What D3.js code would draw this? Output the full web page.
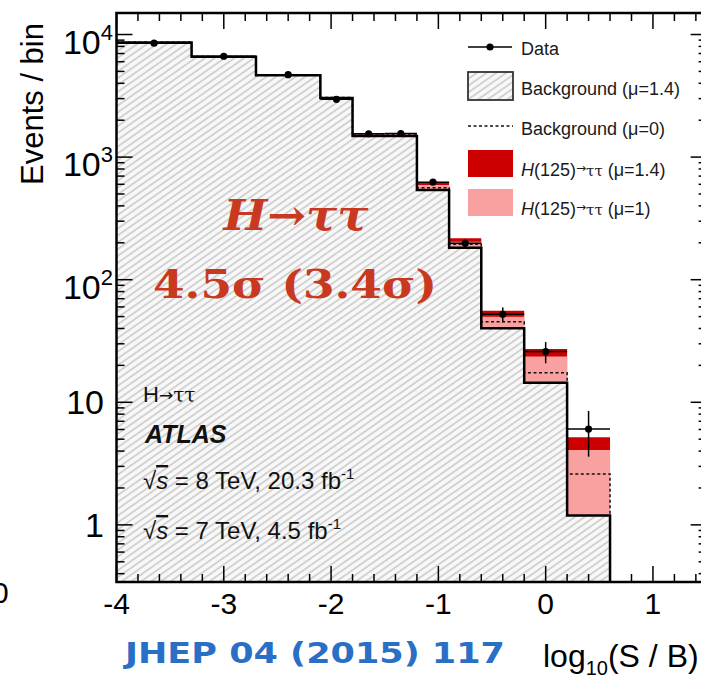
<!DOCTYPE html>
<html>
<head>
<meta charset="utf-8">
<script src="https://cdn.jsdelivr.net/npm/d3@7"></script>
<style>
  body { margin: 0; background: #fff; }
  svg { display: block; }
</style>
</head>
<body>
<div id="chart"></div>
<script>
// ---------------- data ----------------
const binEdges   = [-4, -3.3, -2.7, -2.1, -1.8, -1.5, -1.2, -0.9, -0.6, -0.2, 0.2, 0.6];
const dataCounts = [8500, 6650, 4700, 2960, 1550, 1555, 625, 198, 52.2, 25.9, 6.05];
const dataErrors = [92, 82, 69, 54, 39, 39, 25, 14, 7.2, 5.1, 2.45];
const bgMu14     = [8600, 6590, 4650, 3035, 1486, 1486, 539, 182, 40.1, 14.45, 1.19];
const bgMu0      = [8640, 6620, 4680, 3060, 1505, 1512, 562, 195, 45.4, 17.4, 2.6];
const higgsMu1   = [9, 11, 14, 20, 30, 60, 53, 22, 9.8, 9.2, 2.9];
const higgsMu14  = [13, 15, 20, 28, 42, 89, 84, 36, 15.7, 12.8, 4.0];

const xTicks = [-4, -3, -2, -1, 0, 1];
const yTicks = [1e4, 1e3, 1e2, 10, 1];
const yTickLabels = [["10", "4"], ["10", "3"], ["10", "2"], ["10", ""], ["1", ""]];

const legendItems = ["Data", "Background (μ=1.4)", "Background (μ=0)", "H(125)→ττ (μ=1.4)", "H(125)→ττ (μ=1)"];

// ---------------- svg ----------------
const width = 701, height = 678;
const pLeft = 116.5, pRight = 706.6, pTop = 13, pBottom = 582;
const red = "#cc0000", pink = "#f9a0a0";
const font = "'Liberation Sans', Arial, sans-serif";

const svg = d3.select("#chart").append("svg")
    .attr("width", width)
    .attr("height", height);

const defs = svg.append("defs");
const hatch = defs.append("pattern")
    .attr("id", "hatch")
    .attr("patternUnits", "userSpaceOnUse")
    .attr("width", 12).attr("height", 5.6)
    .attr("patternTransform", "rotate(-35)");
hatch.append("rect").attr("width", 12).attr("height", 5.6).attr("fill", "#f8f8f8");
hatch.append("line")
    .attr("x1", 0).attr("x2", 12).attr("y1", 2.8).attr("y2", 2.8)
    .attr("stroke", "#b0b0b0").attr("stroke-width", 1);

defs.append("clipPath").attr("id", "plotclip")
  .append("rect").attr("x", pLeft).attr("y", pTop)
  .attr("width", pRight - pLeft).attr("height", pBottom - pTop);

// ---------------- scales ----------------
const x = d3.scaleLinear().domain([-4, 1.5]).range([pLeft, pRight]);
const y = d3.scaleLog().domain([0.342, 14980]).range([pBottom, pTop]);

// helpers for step histograms
function bins(lo, hi) {
  const pts = binEdges.slice(0, -1).map((e, i) => ({x: e, lo: lo[i], hi: hi[i]}));
  const n = lo.length - 1;
  pts.push({x: binEdges[binEdges.length - 1], lo: lo[n], hi: hi[n]});
  return pts;
}
const area = d3.area()
    .curve(d3.curveStepAfter)
    .x(d => x(d.x))
    .y0(d => d.lo === null ? pBottom : y(d.lo))
    .y1(d => y(d.hi));
const stepLine = d3.line()
    .curve(d3.curveStepAfter)
    .x(d => x(d.x))
    .y(d => d.v === null ? pBottom : y(d.v));
function stepPts(vals) {
  const pts = binEdges.slice(0, -1).map((e, i) => ({x: e, v: vals[i]}));
  const last = binEdges[binEdges.length - 1];
  pts.push({x: last, v: vals[vals.length - 1]});
  pts.push({x: last, v: null});
  return pts;
}

const plot = svg.append("g").attr("clip-path", "url(#plotclip)");

// signal stacked on top of the background
const sig14Top = bgMu14.map((b, i) => b + higgsMu14[i]);
const sig1Top = bgMu14.map((b, i) => b + higgsMu1[i]);
plot.append("path").attr("fill", red).attr("d", area(bins(bgMu14, sig14Top)));
plot.append("path").attr("fill", pink).attr("d", area(bins(bgMu14, sig1Top)));

// hatched background
plot.append("path")
    .attr("fill", "url(#hatch)")
    .attr("d", area(bins(bgMu14.map(() => null), bgMu14)));

// background mu=0 dotted
plot.append("path")
    .attr("fill", "none").attr("stroke", "#111")
    .attr("stroke-width", 1.5).attr("stroke-dasharray", "3,2.5")
    .attr("d", stepLine(stepPts(bgMu0)));

// background outline
plot.append("path")
    .attr("fill", "none").attr("stroke", "#000")
    .attr("stroke-width", 2.5)
    .attr("d", stepLine(stepPts(bgMu14)));

// data points
const pts = dataCounts.map((v, i) => ({
  x0: binEdges[i], x1: binEdges[i + 1], xc: (binEdges[i] + binEdges[i + 1]) / 2,
  v: v, e: dataErrors[i]
}));
const dg = plot.append("g");
dg.selectAll(".herr").data(pts).join("line")
    .attr("x1", d => x(d.x0)).attr("x2", d => x(d.x1))
    .attr("y1", d => y(d.v)).attr("y2", d => y(d.v))
    .attr("stroke", "#000").attr("stroke-width", 1.5);
dg.selectAll(".verr").data(pts).join("line")
    .attr("x1", d => x(d.xc)).attr("x2", d => x(d.xc))
    .attr("y1", d => y(d.v - d.e)).attr("y2", d => y(d.v + d.e))
    .attr("stroke", "#000").attr("stroke-width", 1.5);
dg.selectAll("circle").data(pts).join("circle")
    .attr("cx", d => x(d.xc)).attr("cy", d => y(d.v)).attr("r", 3.6)
    .attr("fill", "#000");

// ---------------- frame and ticks ----------------
const frame = svg.append("g");
const xMinor = d3.range(-40, 16, 2).map(v => v / 10);
const yMinor = [];
[0.1, 1, 10, 100, 1000, 10000].forEach(dec => {
  for (let k = 2; k <= 9; k++) yMinor.push(dec * k);
});
const yMinorIn = yMinor.filter(v => v > 0.342 && v < 14980);

function tick(g, x1, y1, x2, y2) {
  g.append("line").attr("x1", x1).attr("y1", y1).attr("x2", x2).attr("y2", y2)
    .attr("stroke", "#000").attr("stroke-width", 1.5);
}
xMinor.forEach(v => {
  const major = Number.isInteger(v);
  const len = major ? 16 : 8;
  tick(frame, x(v), pBottom, x(v), pBottom - len);
  tick(frame, x(v), pTop, x(v), pTop + len);
});
yTicks.forEach(v => {
  tick(frame, pLeft, y(v), pLeft + 16, y(v));
  tick(frame, pRight, y(v), pRight - 16, y(v));
});
yMinorIn.forEach(v => {
  tick(frame, pLeft, y(v), pLeft + 8, y(v));
  tick(frame, pRight, y(v), pRight - 8, y(v));
});
frame.append("rect")
    .attr("x", pLeft).attr("y", pTop)
    .attr("width", pRight - pLeft).attr("height", pBottom - pTop)
    .attr("fill", "none").attr("stroke", "#000").attr("stroke-width", 2.5);

// tick labels
svg.selectAll(".xl").data(xTicks).join("text")
    .attr("x", d => x(d)).attr("y", 614)
    .attr("text-anchor", "middle")
    .attr("font-family", font).attr("font-size", 30)
    .text(d => d);

yTicks.forEach((v, i) => {
  const [base, sup] = yTickLabels[i];
  const t = svg.append("text")
      .attr("text-anchor", "end")
      .attr("font-family", font).attr("font-size", 34)
      .attr("x", sup ? 113 : 104)
      .attr("y", y(v) + (sup ? 19 : 12));
  t.append("tspan").text(base);
  if (sup) t.append("tspan").attr("font-size", 22).attr("dy", -14).text(sup);
});

// cut-off label from neighbouring panel
svg.append("text").attr("x", -8).attr("y", 603)
    .attr("font-family", font).attr("font-size", 30).text("0");

// axis titles
svg.append("text")
    .attr("transform", "translate(43,185) rotate(-90)")
    .attr("font-family", font).attr("font-size", 31)
    .text("Events / bin");

const xt = svg.append("text")
    .attr("x", 543).attr("y", 667)
    .attr("font-family", font).attr("font-size", 32);
xt.append("tspan").text("log");
xt.append("tspan").attr("font-size", 20).attr("dy", 8).text("10");
xt.append("tspan").attr("dy", -8).text("(S / B)");

svg.append("text")
    .attr("x", 125).attr("y", 663)
    .attr("font-family", "'DejaVu Sans', Verdana, sans-serif")
    .attr("font-weight", "bold").attr("font-size", 28)
    .attr("fill", "#2a6fc6")
    .attr("textLength", 380).attr("lengthAdjust", "spacingAndGlyphs")
    .text("JHEP 04 (2015) 117");

// ---------------- annotations ----------------
const ann = svg.append("g").attr("font-family", "'DejaVu Serif', Georgia, serif")
    .attr("font-weight", "bold").attr("fill", "#c8391f");
const a1 = ann.append("text").attr("x", 296).attr("y", 230)
    .attr("text-anchor", "middle").attr("font-size", 42)
    .attr("textLength", 145).attr("lengthAdjust", "spacingAndGlyphs");
a1.append("tspan").attr("font-style", "italic").text("H");
a1.append("tspan").text("→");
a1.append("tspan").attr("font-style", "italic").text("ττ");
ann.append("text").attr("x", 295).attr("y", 298)
    .attr("text-anchor", "middle").attr("font-size", 40)
    .attr("textLength", 284).attr("lengthAdjust", "spacingAndGlyphs")
    .text("4.5σ (3.4σ)");

const info = svg.append("g").attr("font-family", font).attr("fill", "#111");
const h1 = info.append("text").attr("x", 143).attr("y", 402).attr("font-size", 22);
h1.append("tspan").text("H");
h1.append("tspan").attr("font-family", "'DejaVu Sans', sans-serif").attr("font-size", 17).attr("dy", -1).text("→");
h1.append("tspan").attr("font-family", "'DejaVu Serif', serif").attr("font-size", 20).attr("dy", 1).text("ττ");
info.append("text").attr("x", 145).attr("y", 443).attr("font-size", 25)
    .attr("font-weight", "bold").attr("font-style", "italic").text("ATLAS");
[["8 TeV, 20.3 fb", 489], ["7 TeV, 4.5 fb", 539]].forEach(([t, yy]) => {
  const tx = info.append("text").attr("x", 143).attr("y", yy).attr("font-size", 24);
  tx.append("tspan").text("√");
  tx.append("tspan").attr("font-style", "italic").attr("text-decoration", "overline").text("s");
  tx.append("tspan").text(" = " + t);
  tx.append("tspan").attr("font-size", 15).attr("dy", -10).text("-1");
});

// ---------------- legend ----------------
const lg = svg.append("g").attr("font-family", font).attr("font-size", 18).attr("fill", "#1a1a1a");
// Data
tick(lg, 468, 47, 512, 47);
lg.append("circle").attr("cx", 490).attr("cy", 47).attr("r", 3.6).attr("fill", "#000");
lg.append("text").attr("x", 521).attr("y", 55).text(legendItems[0]);
// Background mu=1.4
lg.append("rect").attr("x", 468).attr("y", 72).attr("width", 45).attr("height", 28)
    .attr("fill", "url(#hatch)").attr("stroke", "#333").attr("stroke-width", 1.8);
lg.append("text").attr("x", 521).attr("y", 95).text(legendItems[1]);
// Background mu=0
lg.append("line").attr("x1", 468).attr("x2", 513).attr("y1", 126).attr("y2", 126)
    .attr("stroke", "#111").attr("stroke-width", 1.5).attr("stroke-dasharray", "3,2.5");
lg.append("text").attr("x", 521).attr("y", 135).text(legendItems[2]);
// Higgs
[[red, 150, 176, "1.4"], [pink, 189, 215, "1"]].forEach(([c, ry, ty, mu]) => {
  lg.append("rect").attr("x", 468).attr("y", ry).attr("width", 45).attr("height", 27).attr("fill", c);
  const t = lg.append("text").attr("x", 521).attr("y", ty);
  t.append("tspan").attr("font-style", "italic").text("H");
  t.append("tspan").text("(125)");
  t.append("tspan").attr("font-family", "'DejaVu Sans', sans-serif").attr("font-size", 12).attr("dy", -4).text("→");
  t.append("tspan").attr("font-size", 15).attr("dy", 4).attr("font-family", "'DejaVu Serif', serif").text("ττ");
  t.append("tspan").text(" (μ=" + mu + ")");
});
</script>
</body>
</html>
